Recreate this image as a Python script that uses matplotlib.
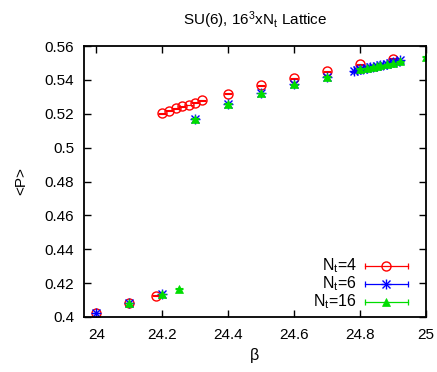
import matplotlib
matplotlib.use("Agg")
import matplotlib.pyplot as plt
from matplotlib.ticker import FormatStrFormatter, MultipleLocator

plt.rcParams['font.family'] = ['Liberation Sans', 'DejaVu Sans']
plt.rcParams['mathtext.default'] = 'regular'

# Average plaquette <P> vs beta for SU(6) on 16^3 x Nt lattices
beta_nt4 = [24.0, 24.1, 24.18, 24.2, 24.22, 24.24, 24.26, 24.28, 24.3, 24.32,
            24.4, 24.5, 24.6, 24.7, 24.8, 24.9]
p_nt4 = [0.4024, 0.4082, 0.4126, 0.5202, 0.5218, 0.5232, 0.5244, 0.5253, 0.5265, 0.5279,
         0.5320, 0.5368, 0.5409, 0.5452, 0.5492, 0.5526]

beta_nt6 = [24.0, 24.1, 24.2, 24.3, 24.4, 24.5, 24.6, 24.7,
            24.78, 24.79, 24.8, 24.81, 24.82, 24.83, 24.84, 24.85, 24.86,
            24.87, 24.88, 24.89, 24.9, 24.91, 24.92]
p_nt6 = [0.4024, 0.4082, 0.4136, 0.5171, 0.5261, 0.5324, 0.5374, 0.5419,
         0.5452, 0.5458, 0.5465, 0.5467, 0.5471, 0.5476, 0.5478, 0.5483, 0.5486,
         0.5490, 0.5495, 0.5500, 0.5504, 0.5509, 0.5516]

beta_nt16 = [24.1, 24.2, 24.25, 24.3, 24.4, 24.5, 24.6, 24.7,
             24.8, 24.82, 24.84, 24.85, 24.86, 24.88, 24.9, 24.92, 25.0]
p_nt16 = [0.4082, 0.4136, 0.4168, 0.5171, 0.5261, 0.5324, 0.5374, 0.5419,
          0.5466, 0.5471, 0.5479, 0.5483, 0.5486, 0.5492, 0.5500, 0.5510, 0.5537]

labels = ['$N_t$=4', '$N_t$=6', '$N_t$=16']
colors = ['#ff0000', '#0000ff', '#00dd00']

fig = plt.figure(figsize=(4.37, 3.72), dpi=100)
ax = fig.add_axes([0.192, 0.148, 0.783, 0.728])

# point styles: open circle, star (plus + cross), filled triangle
styles = [
    [dict(marker='o', mfc='none', mec=colors[0], ms=6.5, mew=1.0)],
    [dict(marker='+', color=colors[1], ms=7, mew=1.0),
     dict(marker='x', color=colors[1], ms=5.5, mew=1.0)],
    [dict(marker='^', mfc=colors[2], mec=colors[2], ms=5.5, mew=0.5)],
]
data = [(beta_nt4, p_nt4), (beta_nt6, p_nt6), (beta_nt16, p_nt16)]

for (b, p), st, c in zip(data, styles, colors):
    ax.errorbar(b, p, yerr=0.0002, fmt='none', ecolor=c, elinewidth=0.8,
                capsize=3, capthick=0.8)
    for mk in st:
        ax.plot(b, p, linestyle='none', **mk)

ax.set_xlim(23.962, 25.0)
ax.set_ylim(0.4, 0.56)
ax.xaxis.set_major_locator(MultipleLocator(0.2))
ax.yaxis.set_major_locator(MultipleLocator(0.02))
ax.xaxis.set_major_formatter(FormatStrFormatter('%g'))
ax.yaxis.set_major_formatter(FormatStrFormatter('%g'))
ax.tick_params(direction='in', length=5, width=1, top=True, right=True,
               labelsize=11, colors='black')
ax.tick_params(axis='x', pad=8)
ax.tick_params(axis='y', pad=7)
for s in ax.spines.values():
    s.set_linewidth(1.3)

ax.set_xlabel('β', fontsize=11.5)
ax.set_ylabel('<P>', fontsize=11, labelpad=12)
fig.text(0.584, 0.946, 'SU(6), 16$^3$x$N_t$ Lattice', ha='center', va='center',
         fontsize=11)

# gnuplot-style key: label on the left, errorbar sample on the right
key_rows = [0.188, 0.122, 0.055]
x0, x1, xm, xt = 0.822, 0.947, 0.883, 0.798
for st, c, lab, yk in zip(styles, colors, labels, key_rows):
    ax.plot([x0, x1], [yk, yk], color=c, lw=0.9, transform=ax.transAxes,
            clip_on=False)
    ax.plot([x0, x1], [yk, yk], linestyle='none', marker='|', ms=5, mew=0.9,
            color=c, transform=ax.transAxes, clip_on=False)
    for mk in st:
        ax.plot([xm], [yk], linestyle='none', transform=ax.transAxes,
                clip_on=False, **mk)
    ax.text(xt, yk, lab, ha='right', va='center', fontsize=11.5,
            transform=ax.transAxes)

fig.savefig('out.png', dpi=100)
